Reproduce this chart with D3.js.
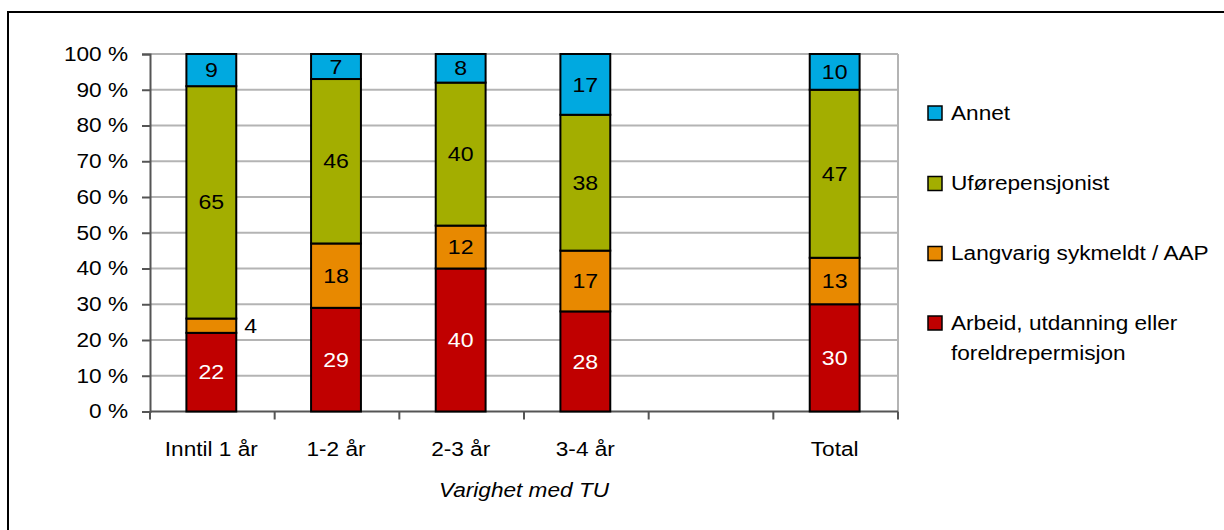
<!DOCTYPE html>
<html>
<head>
<meta charset="utf-8">
<script src="https://cdn.jsdelivr.net/npm/d3@7"></script>
<style>
  body { margin: 0; background: #fff; }
  svg { display: block; font-family: "Liberation Sans", Arial, sans-serif; }
</style>
</head>
<body>
<script>
// categories on the x axis (the empty one is the gap before Total)
const categories = ["Inntil 1 år", "1-2 år", "2-3 år", "3-4 år", "", "Total"];

// percent per category, bottom to top
const arbeid    = [22, 29, 40, 28, null, 30];
const langvarig = [4, 18, 12, 17, null, 13];
const ufore     = [65, 46, 40, 38, null, 47];
const annet     = [9, 7, 8, 17, null, 10];

const seriesNames = ["Arbeid, utdanning eller foreldrepermisjon", "Langvarig sykmeldt / AAP", "Uførepensjonist", "Annet"];
const seriesColors = ["#C00000", "#E88900", "#A3AE00", "#00A9E0"];
const yTicks = [0, 10, 20, 30, 40, 50, 60, 70, 80, 90, 100];
const xTitle = "Varighet med TU";

const WIDTH = 1224;
const HEIGHT = 530;
const STRETCH = 1.16; // text in the source is a bit wide

const svg = d3.select('body')
  .append('svg')
  .attr('width', WIDTH)
  .attr('height', HEIGHT);

// frame round the chart (only top and left are inside the picture)
svg.append('rect')
  .attr('x', 8)
  .attr('y', 12)
  .attr('width', 1400)
  .attr('height', 700)
  .attr('fill', 'none')
  .attr('stroke', '#000')
  .attr('stroke-width', 2);

const x = d3.scaleBand()
  .domain(categories)
  .range([150, 898])
  .paddingInner(0.6)
  .paddingOuter(0.3);

const y = d3.scaleLinear()
  .domain([0, 100])
  .range([411.5, 54]);

function addText(parent, tx, ty, str, opts) {
  opts = opts || {};
  return parent.append('text')
    .attr('transform', 'translate(' + tx + ',' + ty + ') scale(' + (opts.stretch || STRETCH) + ',1)')
    .attr('text-anchor', opts.anchor || 'start')
    .attr('dominant-baseline', opts.baseline || 'auto')
    .attr('font-size', (opts.size || 19.5) + 'px')
    .attr('font-style', opts.italic ? 'italic' : 'normal')
    .attr('fill', opts.fill || '#000')
    .text(str);
}

// gridlines
svg.append('g')
  .selectAll('line')
  .data(yTicks.filter(d => d > 0))
  .enter()
  .append('line')
  .attr('x1', 150)
  .attr('x2', 898)
  .attr('y1', d => y(d))
  .attr('y2', d => y(d))
  .attr('stroke', '#b4b4b4')
  .attr('stroke-width', 2);

// right border of plot area
svg.append('line')
  .attr('x1', 898).attr('x2', 898)
  .attr('y1', y(100)).attr('y2', y(0))
  .attr('stroke', '#b4b4b4')
  .attr('stroke-width', 2);

// y axis
const yAxis = svg.append('g')
  .attr('transform', 'translate(150,0)')
  .call(d3.axisLeft(y).tickValues(yTicks).tickSize(8).tickFormat(''));
yAxis.selectAll('path, line').attr('stroke', '#555').attr('stroke-width', 2);

yTicks.forEach(t => {
  addText(svg, 128, y(t), t + ' %', { anchor: 'end', baseline: 'central' });
});

// x axis line and ticks on band boundaries
const step = x.step();
const xEdges = d3.range(categories.length + 1).map(i => 150 + i * step);
svg.append('line')
  .attr('x1', 150).attr('x2', 898)
  .attr('y1', y(0)).attr('y2', y(0))
  .attr('stroke', '#555')
  .attr('stroke-width', 2);
svg.append('g')
  .selectAll('line')
  .data(xEdges)
  .enter()
  .append('line')
  .attr('x1', d => d).attr('x2', d => d)
  .attr('y1', y(0)).attr('y2', y(0) + 8)
  .attr('stroke', '#555')
  .attr('stroke-width', 2);

categories.forEach(c => {
  if (c) addText(svg, x(c) + x.bandwidth() / 2 - 1, 456, c, { anchor: 'middle' });
});

addText(svg, 524, 497, xTitle, { anchor: 'middle', italic: true });

// stacked bars
const series = [arbeid, langvarig, ufore, annet];
const rows = categories.map((c, i) => {
  const row = { cat: c };
  series.forEach((s, k) => { row[k] = s[i] == null ? 0 : s[i]; });
  return row;
});
const stacked = d3.stack().keys([0, 1, 2, 3])(rows);

stacked.forEach((layer, k) => {
  const g = svg.append('g');
  layer.forEach((d, i) => {
    const v = series[k][i];
    if (v == null) return;
    g.append('rect')
      .attr('x', x(categories[i]) - 1)
      .attr('y', y(d[1]))
      .attr('width', x.bandwidth())
      .attr('height', y(d[0]) - y(d[1]))
      .attr('fill', seriesColors[k])
      .attr('stroke', '#000')
      .attr('stroke-width', 2);
  });
});

// value labels
stacked.forEach((layer, k) => {
  layer.forEach((d, i) => {
    const v = series[k][i];
    if (v == null) return;
    const mid = (y(d[0]) + y(d[1])) / 2;
    const bx = x(categories[i]) - 1;
    if (v < 6) {
      addText(svg, bx + x.bandwidth() + 8, mid, v, { anchor: 'start', baseline: 'central', size: 21, stretch: 1.1 });
    } else {
      addText(svg, bx + x.bandwidth() / 2, mid, v, {
        anchor: 'middle', baseline: 'central', size: 21, stretch: 1.1,
        fill: k === 0 ? '#fff' : '#000'
      });
    }
  });
});

// legend
const legendY = [323, 253.5, 183.5, 113];
const legend = svg.append('g');
seriesNames.forEach((name, k) => {
  legend.append('rect')
    .attr('x', 928)
    .attr('y', legendY[k] - 7)
    .attr('width', 14)
    .attr('height', 14)
    .attr('fill', seriesColors[k])
    .attr('stroke', '#000')
    .attr('stroke-width', 1.5);
  if (k === 0) {
    addText(legend, 951, legendY[k], 'Arbeid, utdanning eller', { baseline: 'central' });
    addText(legend, 951, legendY[k] + 30, 'foreldrepermisjon', { baseline: 'central' });
  } else {
    addText(legend, 951, legendY[k], name, { baseline: 'central' });
  }
});
</script>
</body>
</html>
